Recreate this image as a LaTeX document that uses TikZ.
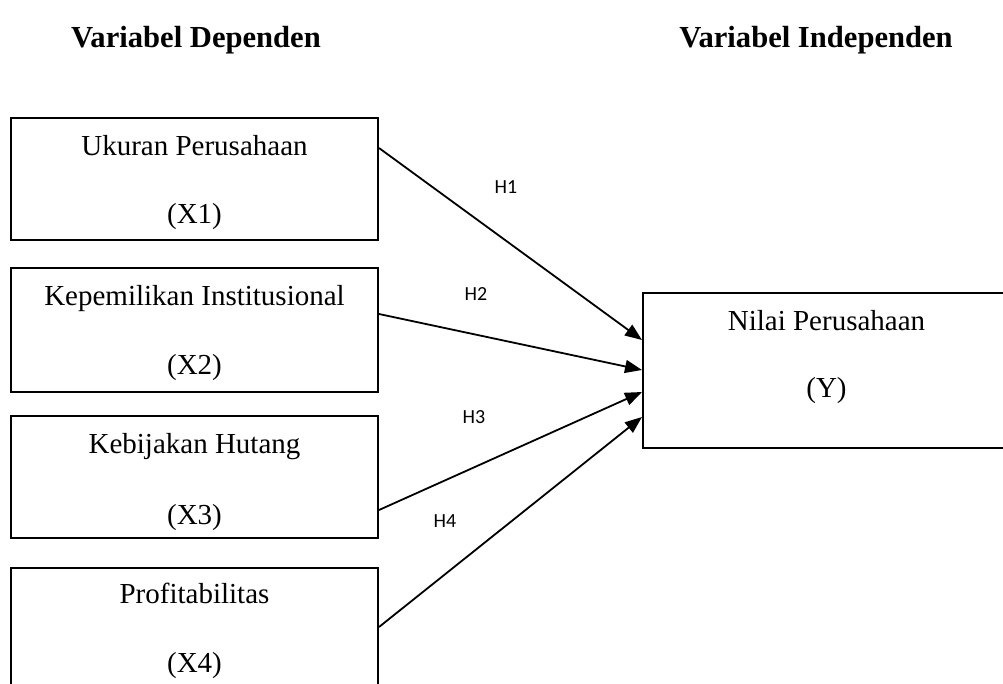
\documentclass[tikz,border=0pt]{standalone}
\usepackage{fontspec}
\setmainfont{Liberation Serif}
\newfontfamily\hfont{Carlito}
\usetikzlibrary{arrows.meta}
\begin{document}
\begin{tikzpicture}[x=1pt,y=-1pt,
 varbox/.style={draw, line width=2pt, minimum width=367pt, minimum height=122pt, inner sep=0pt},
 boxtext/.style={anchor=base, font=\fontsize{29}{34}\selectfont, inner sep=0pt},
 title/.style={anchor=base, font=\fontsize{30.6}{36}\selectfont\bfseries, inner sep=0pt},
 hlabel/.style={anchor=base, font=\hfont\fontsize{20}{24}\selectfont, inner sep=0pt},
 link/.style={line width=1.8pt, -{Triangle[length=17pt,width=13pt]}}]
\useasboundingbox (0,0) rectangle (1003,683);
\clip (0,0) rectangle (1003,683);
\node[title] (tdep) at (196,47) {Variabel Dependen};
\node[title] (tind) at (816,47) {Variabel Independen};
\node[varbox] (b1) at (194.5,179) {};
\node[varbox, minimum height=124pt] (b2) at (194.5,330) {};
\node[varbox] (b3) at (194.5,477) {};
\node[varbox] (b4) at (194.5,629) {};
\node[varbox, minimum height=155pt] (y) at (826.5,370.5) {};
\node[boxtext] (b1a) at (194.5,155) {Ukuran Perusahaan};
\node[boxtext] (b1b) at (194.5,223) {(X1)};
\node[boxtext] (b2a) at (194.5,305) {Kepemilikan Institusional};
\node[boxtext] (b2b) at (194.5,374) {(X2)};
\node[boxtext] (b3a) at (194.5,453) {Kebijakan Hutang};
\node[boxtext] (b3b) at (194.5,524) {(X3)};
\node[boxtext] (b4a) at (194.5,603) {Profitabilitas};
\node[boxtext] (b4b) at (194.5,672) {(X4)};
\node[boxtext] (ya) at (826.5,330) {Nilai Perusahaan};
\node[boxtext] (yb) at (826.5,397) {(Y)};
\draw[link] (b1.east |- 0,148) -- (y.west |- 0,340);
\draw[link] (b2.east |- 0,314) -- (y.west |- 0,370);
\draw[link] (b3.east |- 0,510) -- (y.west |- 0,392);
\draw[link] (b4.east |- 0,627) -- (y.west |- 0,417);
\node[hlabel] (h1) at (506,193) {H1};
\node[hlabel] (h2) at (476,300) {H2};
\node[hlabel] (h3) at (474,423) {H3};
\node[hlabel] (h4) at (445,527) {H4};
\end{tikzpicture}
\end{document}
